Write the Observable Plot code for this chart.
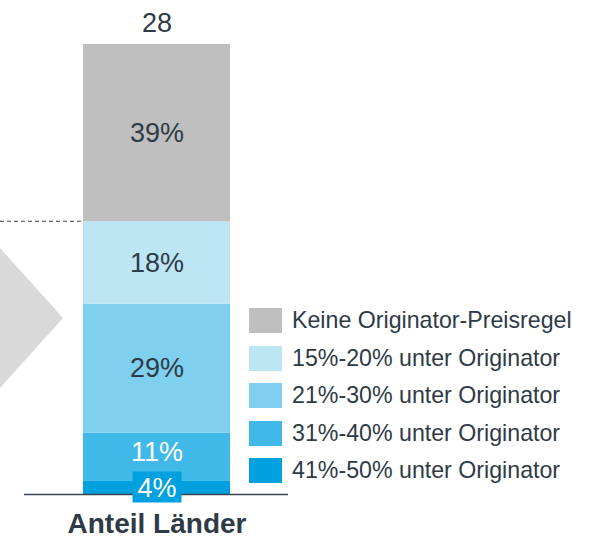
<!DOCTYPE html>
<html>
<head>
<meta charset="utf-8">
<script src="https://cdn.jsdelivr.net/npm/d3@7"></script>
<script src="https://cdn.jsdelivr.net/npm/@observablehq/plot@0.6"></script>
<style>
  html, body { margin: 0; padding: 0; background: #fff; }
  #wrap { position: relative; width: 593px; height: 541px; font-family: "Liberation Sans", Arial, sans-serif; color: #2e3b46; }
  #legend { position: absolute; left: 249px; top: 302px; }
  .row { display: flex; align-items: center; height: 37.5px; }
  .sw { width: 33px; height: 25px; margin-right: 10px; flex: none; }
  .lb { font-size: 23.2px; white-space: nowrap; line-height: 1; }
</style>
</head>
<body>
<div id="wrap"><div id="legend"></div></div>
<script>
// Data (top to bottom in the bar / legend order)
const categories = [
  "Keine Originator-Preisregel",
  "15%-20% unter Originator",
  "21%-30% unter Originator",
  "31%-40% unter Originator",
  "41%-50% unter Originator"
];
const shares = [39.4, 18.3, 28.7, 10.7, 2.9];      // bar heights
const labels = ["39%", "18%", "29%", "11%", "4%"];   // printed labels
const colors = ["#bfbfbf", "#bde6f5", "#7fcfee", "#41b9e8", "#00a1de"];
const labelColors = ["#2e3b46", "#2e3b46", "#2e3b46", "#ffffff", "#ffffff"];
const barName = "Anteil Länder";
const totalCount = "28";

const ink = "#2e3b46";
// bottom-to-top rows with segment midpoints
let acc = 0;
const rows = categories.map((c, i) => ({cat: c, value: shares[i], label: labels[i], lc: labelColors[i], bar: barName}))
  .reverse()
  .map(d => { const r = {...d, mid: acc + d.value / 2}; acc += d.value; return r; });
const total = d3.sum(shares);

const boxSymbol = {draw(ctx) { ctx.rect(-24.5, -15.5, 49, 31); }};

const plot = Plot.plot({
  width: 593,
  height: 541,
  marginTop: 44,
  marginBottom: 47,
  marginLeft: 83,
  marginRight: 363,
  style: {fontFamily: "'Liberation Sans', Arial, sans-serif", background: "transparent"},
  x: {domain: [barName], padding: 0, axis: null},
  y: {domain: [0, total], axis: null},
  color: {domain: categories, range: colors},
  marks: [
    Plot.barY(rows, {x: "bar", y: "value", fill: "cat"}),
    Plot.dot(rows.filter(d => d.label === "4%"), {x: "bar", y: "mid", symbol: boxSymbol, fill: colors[4], stroke: null, dy: -1}),
    Plot.text(rows.filter(d => d.label !== "11%"), {x: "bar", y: "mid", text: "label", fill: "lc", fontSize: 27}),
    Plot.text(rows.filter(d => d.label === "11%"), {x: "bar", y: "mid", text: "label", fill: "lc", fontSize: 27, dy: -5}),
    Plot.text([barName], {x: d => d, y: () => total, text: () => totalCount, dy: -21, fontSize: 27, fill: ink}),
    Plot.text([barName], {x: d => d, frameAnchor: "bottom", dy: 38, fontSize: 28, fontWeight: "bold", fill: ink})
  ]
});

// Decorations drawn with the plot's own scales
const xs = plot.scale("x"), ys = plot.scale("y");
const barLeft = xs.apply(barName);
const barRight = barLeft + xs.bandwidth;
const y0 = ys.apply(0);
const yDash = ys.apply(d3.sum(shares.slice(1)));
const svg = d3.select(plot);
const deco = svg.insert("g", ":first-child");
const midY = (ys.apply(0) + ys.apply(total)) / 2 + 49;
deco.append("path")
  .attr("d", `M0,${midY - 70}L${barLeft - 20},${midY}L0,${midY + 70}Z`)
  .attr("fill", "#d9d9d9");
svg.append("line")
  .attr("x1", 0).attr("x2", barLeft).attr("y1", yDash).attr("y2", yDash)
  .attr("stroke", "#3a4550").attr("stroke-width", 1.1).attr("stroke-dasharray", "4,3");
svg.append("line")
  .attr("x1", barLeft - 59).attr("x2", barRight + 58).attr("y1", y0 + 0.5).attr("y2", y0 + 0.5)
  .attr("stroke", "#3a4652").attr("stroke-width", 1.5);
// keep the 4% box and label above the baseline
svg.selectAll("g[aria-label='dot'], g[aria-label='text']").raise();

document.getElementById("wrap").prepend(plot);

const legend = d3.select("#legend");
categories.forEach((c, i) => {
  const r = legend.append("div").attr("class", "row");
  r.append("div").attr("class", "sw").style("background", colors[i]);
  r.append("div").attr("class", "lb").text(c);
});
</script>
</body>
</html>
